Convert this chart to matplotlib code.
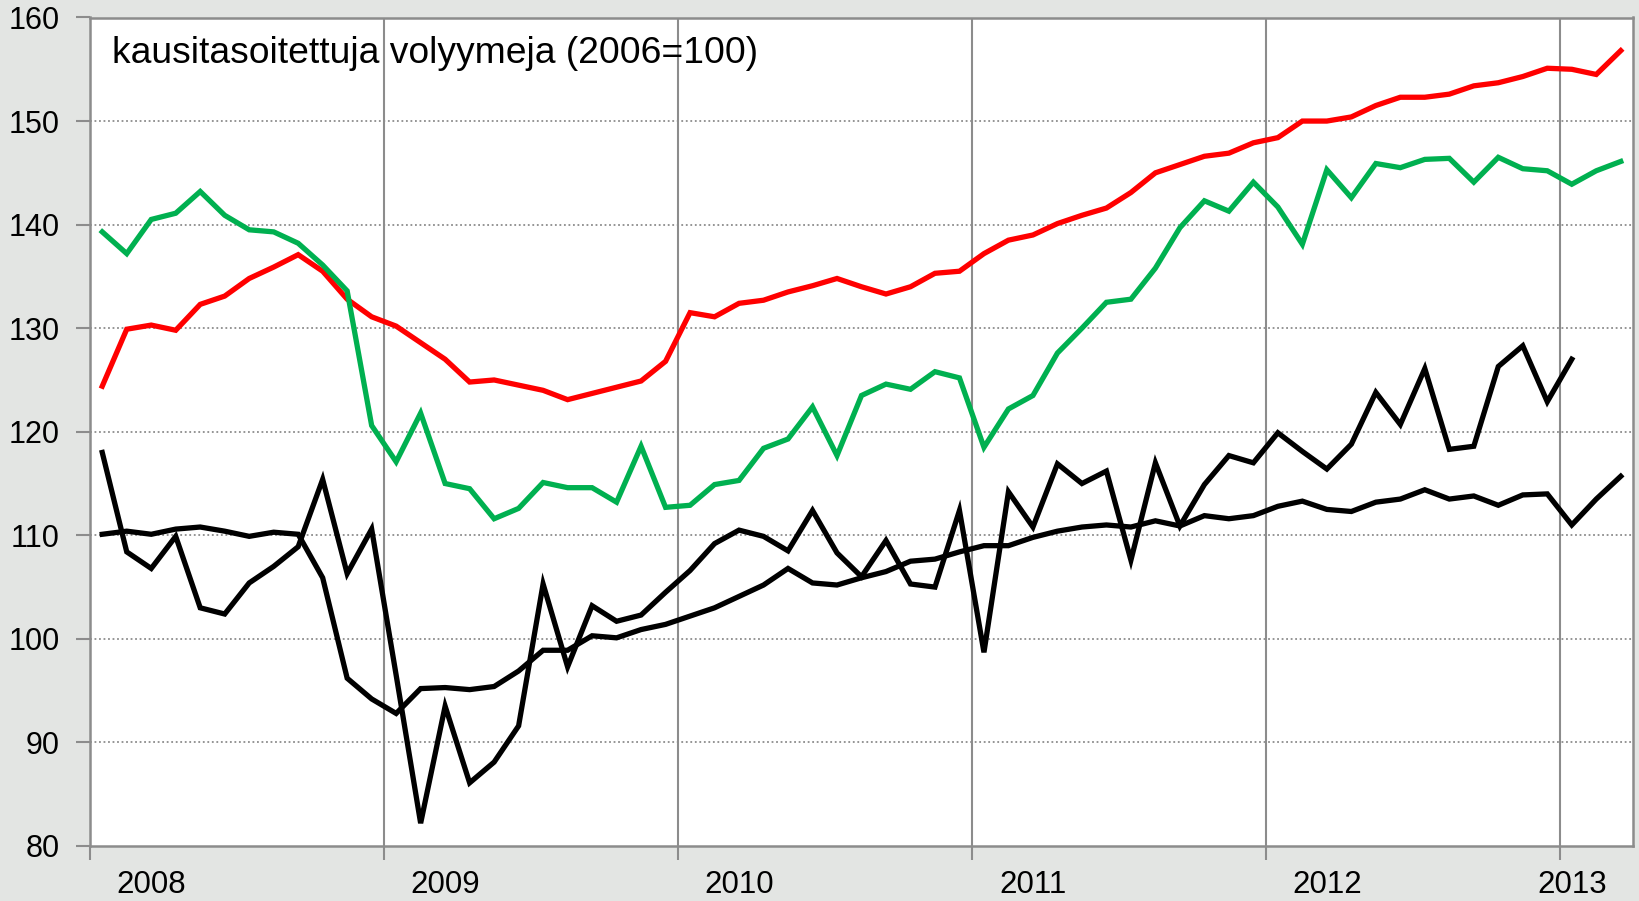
import matplotlib
matplotlib.use("Agg")
import matplotlib.pyplot as plt
import numpy as np

plt.rcParams['font.family'] = ['Liberation Sans', 'DejaVu Sans']

# Monthly data Jan 2008 - Mar 2013 (63 months)
red = [124.4, 129.9, 130.3, 129.8, 132.3, 133.1, 134.8, 135.9, 137.1, 135.5, 132.8, 131.1,
       130.2, 128.6, 127.0, 124.8, 125.0, 124.5, 124.0, 123.1, 123.7, 124.3, 124.9, 126.8,
       131.5, 131.1, 132.4, 132.7, 133.5, 134.1, 134.8, 134.0, 133.3, 134.0, 135.3, 135.5,
       137.2, 138.5, 139.0, 140.1, 140.9, 141.6, 143.1, 145.0, 145.8, 146.6, 146.9, 147.9,
       148.4, 150.0, 150.0, 150.4, 151.5, 152.3, 152.3, 152.6, 153.4, 153.7, 154.3, 155.1,
       155.0, 154.5, 156.8]
green = [139.3, 137.2, 140.5, 141.1, 143.2, 140.9, 139.5, 139.3, 138.2, 136.1, 133.6, 120.6,
         117.1, 121.8, 115.0, 114.5, 111.6, 112.6, 115.1, 114.6, 114.6, 113.2, 118.6, 112.7,
         112.9, 114.9, 115.3, 118.4, 119.3, 122.4, 117.7, 123.5, 124.6, 124.1, 125.8, 125.2,
         118.5, 122.2, 123.5, 127.6, 130.0, 132.5, 132.8, 135.8, 139.7, 142.3, 141.3, 144.1,
         141.7, 138.1, 145.3, 142.6, 145.9, 145.5, 146.3, 146.4, 144.1, 146.5, 145.4, 145.2,
         143.9, 145.2, 146.1]
black_raw = [118.0, 108.4, 106.8, 109.9, 103.0, 102.4, 105.4, 107.0, 108.9, 115.4, 106.3, 110.6,
             96.5, 82.2, 93.5, 86.1, 88.1, 91.6, 105.3, 97.3, 103.2, 101.7, 102.3, 104.5,
             106.6, 109.2, 110.5, 109.9, 108.5, 112.4, 108.3, 106.0, 109.5, 105.3, 105.0, 112.4,
             98.7, 114.2, 110.8, 116.9, 115.0, 116.2, 107.6, 117.0, 110.9, 114.9, 117.7, 117.0,
             119.9, 118.1, 116.4, 118.8, 123.8, 120.7, 126.1, 118.3, 118.6, 126.3, 128.3, 122.9,
             127.0]
black_trend = [110.1, 110.4, 110.1, 110.6, 110.8, 110.4, 109.9, 110.3, 110.1, 105.9, 96.2, 94.2,
               92.8, 95.2, 95.3, 95.1, 95.4, 96.9, 98.9, 98.9, 100.3, 100.1, 100.9, 101.4,
               102.2, 103.0, 104.1, 105.2, 106.8, 105.4, 105.2, 105.9, 106.5, 107.5, 107.7, 108.4,
               109.0, 109.0, 109.8, 110.4, 110.8, 111.0, 110.8, 111.4, 110.9, 111.9, 111.6, 111.9,
               112.8, 113.3, 112.5, 112.3, 113.2, 113.5, 114.4, 113.5, 113.8, 112.9, 113.9, 114.0,
               111.0, 113.5, 115.7]
years = ['2008', '2009', '2010', '2011', '2012', '2013']
year_label_idx = [2, 14, 26, 38, 50, 60]
y_ticks = [80, 90, 100, 110, 120, 130, 140, 150, 160]
note = 'kausitasoitettuja volyymeja (2006=100)'

W, H = 1640, 901
fig = plt.figure(figsize=(W / 100, H / 100), dpi=100)
fig.patch.set_facecolor('#E3E5E3')
ax = fig.add_axes([90 / W, 1 - 846 / H, (1633 - 90) / W, (846 - 17.5) / H])
ax.set_facecolor('white')

n = len(red)
x = np.arange(n)
lw = 3.8
ax.plot(x, red, color='#FF0000', lw=lw, solid_joinstyle='miter', zorder=4)
ax.plot(x, green, color='#00B050', lw=lw, solid_joinstyle='miter', zorder=4)
ax.plot(np.arange(len(black_raw)), black_raw, color='black', lw=lw, solid_joinstyle='miter', zorder=3)
ax.plot(x, black_trend, color='black', lw=lw, solid_joinstyle='miter', zorder=3)

ax.set_xlim(-0.5, n - 0.5)
ax.set_ylim(80, 160)

bounds = np.arange(-0.5, n, 12)
ax.set_xticks(bounds)
ax.set_xticklabels([''] * len(bounds))
ax.tick_params(axis='x', which='major', direction='out', length=10, width=1.5, color='#8C8C8C')
ax.set_xticks(year_label_idx, minor=True)
ax.set_xticklabels(years, minor=True)
ax.tick_params(axis='x', which='minor', length=0, pad=17, labelsize=22.5)
for b in bounds[1:]:
    ax.axvline(b, color='#8C8C8C', lw=1.5, zorder=1)

ax.set_yticks(y_ticks)
ax.set_yticklabels([str(v) for v in y_ticks])
ax.tick_params(axis='y', direction='out', length=10, width=1.5, color='#8C8C8C', pad=12, labelsize=22)
for v in y_ticks[1:-1]:
    ax.axhline(v, color='#8C8C8C', lw=1.3, ls=(0, (1, 1.5)), zorder=1)

for s in ax.spines.values():
    s.set_color('#8C8C8C')
    s.set_linewidth(1.8)

fig.text(112 / W, 1 - 63 / H, note, fontsize=26.8, ha='left', va='baseline')

fig.savefig('out.png', dpi=100, facecolor=fig.get_facecolor())
